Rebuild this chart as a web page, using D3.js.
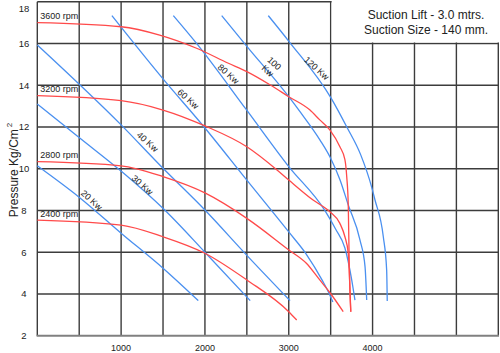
<!DOCTYPE html>
<html>
<head>
<meta charset="utf-8">
<script src="https://cdn.jsdelivr.net/npm/d3@7"></script>
<style>
body { margin: 0; background: #fff; }
svg { display: block; font-family: "Liberation Sans", Arial, sans-serif; }
</style>
</head>
<body>
<div id="chart"></div>
<script>
// pump curves, [flow, pressure]
var rpm3600 = [[0,17.0],[1000,16.8],[1460,16.4],[1900,15.77],[2280,15.05],[2500,14.65],[2780,14.01],[3000,13.45],[3250,12.82],[3370,12.34],[3490,11.86],[3610,11.05],[3670,10.43],[3692,9.6],[3710,8.26],[3722,5.31],[3740,3.15]];
var rpm3200 = [[0,13.5],[1000,13.26],[1500,12.81],[2000,12.05],[2500,11.05],[2860,9.94],[3000,9.46],[3290,8.5],[3490,7.94],[3610,7.38],[3670,6.74],[3710,5.95],[3728,4.5],[3740,3.15]];
var rpm2800 = [[0,10.34],[1000,10.14],[1500,9.62],[2000,8.84],[2500,7.62],[3000,6.11],[3210,5.47],[3370,4.67],[3490,4.07],[3650,3.15]];
var rpm2400 = [[0,7.54],[1000,7.3],[1500,6.74],[2000,5.95],[2500,4.67],[3000,3.15],[3095,2.75]];
var rpmNames = ["3600 rpm", "3200 rpm", "2800 rpm", "2400 rpm"];

// power lines
var kw20 = [[0,10.14],[510,8.6],[1000,6.91],[1500,5.23],[1920,3.68]];
var kw30 = [[0,13.1],[510,11.46],[1010,9.85],[1520,8.02],[2000,6.0],[2540,3.68]];
var kw40 = [[0,15.93],[1000,12.1],[1500,10.02],[2000,8.02],[2500,5.85],[3015,3.68]];
var kw60 = [[890,17.33],[1500,14.3],[2000,11.95],[2500,9.45],[3000,6.97],[3210,5.9],[3400,4.65],[3490,3.95],[3525,3.62]];
var kw80 = [[1623,17.33],[1900,16.0],[2490,12.85],[3000,10.1],[3430,8.0],[3560,7.1],[3670,6.2],[3750,4.7],[3790,3.7]];
var kw100 = [[2200,17.33],[2505,15.84],[3000,13.45],[3134,12.73],[3373,11.37],[3492,10.56],[3612,9.46],[3710,8.26],[3850,6.58],[3910,5.31],[3930,3.71]];
var kw120 = [[2756,17.33],[3006,16.08],[3507,13.37],[3691,12.01],[3860,10.65],[3989,9.12],[4029,8.5],[4128,6.74],[4168,5.15],[4175,3.66]];
var kwNames = [["20 Kw"], ["30 Kw"], ["40 Kw"], ["60 Kw"], ["80 Kw"], ["100", "Kw"], ["120 Kw"]];
// where each kW label sits (flow, pressure)
var kwLabelAt = [[649,8.5],[1255,9.22],[1315,11.29],[1801,13.34],[2279,14.54],[2788,14.87],[3333,14.81]];

var xTicks = [1000, 2000, 3000, 4000];
var yTicks = [2, 4, 6, 8, 10, 12, 14, 16, 18];
var notes = ["Suction Lift - 3.0 mtrs.", "Suction Size - 140 mm."];

var W = 500, H = 353;
var plotLeft = 37.3, plotRight = 498.3, plotTop = 1.7, plotBottom = 335.7;

var svg = d3.select("#chart")
    .append("svg")
        .attr("width", W)
        .attr("height", H);

var x = d3.scaleLinear()
    .domain([0, 5500])
    .range([plotLeft, plotRight]);

var y = d3.scaleLinear()
    .domain([2, 18])
    .range([plotBottom, plotTop]);

// grid
svg.append("g")
    .selectAll("line")
    .data(d3.range(0, 5501, 500))
    .enter()
    .append("line")
        .attr("x1", function(d) { return x(d); })
        .attr("x2", function(d) { return x(d); })
        .attr("y1", y(18))
        .attr("y2", y(2))
        .attr("stroke", "#3c3c3c")
        .attr("stroke-width", 1.4);

svg.append("g")
    .selectAll("line")
    .data(d3.range(4, 19, 2))
    .enter()
    .append("line")
        .attr("x1", x(0))
        .attr("x2", x(5500))
        .attr("y1", function(d) { return y(d); })
        .attr("y2", function(d) { return y(d); })
        .attr("stroke", "#3c3c3c")
        .attr("stroke-width", 1.4);

svg.append("line")
    .attr("x1", x(0) - 0.7)
    .attr("x2", x(5500) + 0.7)
    .attr("y1", y(2))
    .attr("y2", y(2))
    .attr("stroke", "#808080")
    .attr("stroke-width", 2);

// note box over the top right corner
svg.append("rect")
    .attr("x", x(3500) + 1)
    .attr("y", 0)
    .attr("width", W - x(3500) - 1)
    .attr("height", y(16) - 1)
    .attr("fill", "#fff");

svg.append("text")
    .attr("x", 426)
    .attr("y", 18.5)
    .attr("text-anchor", "middle")
    .style("font-size", "12px")
    .attr("fill", "#222")
    .selectAll("tspan")
    .data(notes)
    .enter()
    .append("tspan")
        .attr("x", 426)
        .attr("dy", function(d, i) { return i ? 15 : 0; })
        .text(function(d) { return d; });

// ticks
svg.append("g")
    .selectAll("text")
    .data(xTicks)
    .enter()
    .append("text")
        .attr("x", function(d) { return x(d); })
        .attr("y", 351)
        .attr("text-anchor", "middle")
        .style("font-size", "9px")
        .attr("fill", "#222")
        .text(function(d) { return d; });

svg.append("g")
    .selectAll("text")
    .data(yTicks)
    .enter()
    .append("text")
        .attr("x", 24)
        .attr("y", function(d) { return Math.max(y(d), 8.3); })
        .attr("dy", "0.35em")
        .attr("text-anchor", "middle")
        .style("font-size", "9.5px")
        .attr("fill", "#222")
        .text(function(d) { return d; });

var yTitle = svg.append("text")
    .attr("transform", "translate(18," + 170 + ")rotate(-90)")
    .attr("text-anchor", "middle")
    .style("font-size", "12px")
    .attr("fill", "#222");
yTitle.append("tspan").text("Pressure Kg/Cm");
yTitle.append("tspan")
    .attr("dy", -6)
    .attr("dx", 2)
    .style("font-size", "8px")
    .text("2");

var line = d3.line()
    .x(function(d) { return x(d[0]); })
    .y(function(d) { return y(d[1]); })
    .curve(d3.curveMonotoneX);

// power lines
var kwSeries = [kw20, kw30, kw40, kw60, kw80, kw100, kw120];
svg.append("g")
    .selectAll("path")
    .data(kwSeries)
    .enter()
    .append("path")
        .attr("d", line)
        .attr("fill", "none")
        .attr("stroke", "#4a90f0")
        .attr("stroke-width", 1.3);

// speed curves
var rpmSeries = [rpm3600, rpm3200, rpm2800, rpm2400];
svg.append("g")
    .selectAll("path")
    .data(rpmSeries)
    .enter()
    .append("path")
        .attr("d", line)
        .attr("fill", "none")
        .attr("stroke", "#ff4a4a")
        .attr("stroke-width", 1.3);

svg.append("g")
    .selectAll("text")
    .data(rpmSeries)
    .enter()
    .append("text")
        .attr("x", x(0) + 3)
        .attr("y", function(d) { return y(d[0][1]) - 3.5; })
        .style("font-size", "9px")
        .attr("fill", "#222")
        .text(function(d, i) { return rpmNames[i]; });

var kwText = svg.append("g")
    .selectAll("text")
    .data(kwNames)
    .enter()
    .append("text")
        .attr("transform", function(d, i) {
            var p = kwLabelAt[i];
            return "translate(" + x(p[0]) + "," + y(p[1]) + ")rotate(42)";
        })
        .attr("text-anchor", "middle")
        .style("font-size", "9px")
        .attr("fill", "#222");

kwText.selectAll("tspan")
    .data(function(d) { return d; })
    .enter()
    .append("tspan")
        .attr("x", 0)
        .attr("y", function(d, i, nodes) { return (i - (nodes.length - 1) / 2) * 10; })
        .attr("dy", "0.35em")
        .text(function(d) { return d; });
</script>
</body>
</html>
